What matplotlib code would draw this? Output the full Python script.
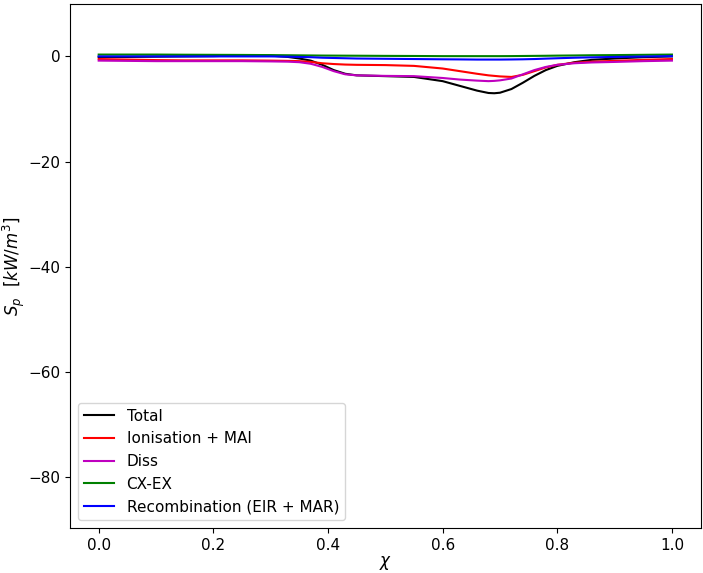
import matplotlib
matplotlib.use("Agg")
import matplotlib.pyplot as plt

chi = [0.0, 0.05, 0.1, 0.15, 0.2, 0.25, 0.3, 0.33, 0.35, 0.37, 0.39, 0.41, 0.43, 0.45,
       0.5, 0.55, 0.6, 0.63, 0.66, 0.68, 0.69, 0.70, 0.72, 0.74, 0.76, 0.78, 0.80, 0.83,
       0.86, 0.9, 0.95, 1.0]

total = [-0.1, -0.1, -0.05, 0.0, 0.05, 0.2, 0.15, -0.1, -0.4, -0.8, -1.6, -2.6, -3.3, -3.6,
         -3.75, -3.9, -4.7, -5.6, -6.5, -6.95, -7.0, -6.9, -6.2, -5.0, -3.7, -2.6, -1.8,
         -1.1, -0.65, -0.4, -0.15, 0.0]
ionisation = [-0.5, -0.6, -0.7, -0.75, -0.75, -0.75, -0.8, -0.85, -0.9, -1.05, -1.3, -1.45,
              -1.55, -1.6, -1.65, -1.8, -2.3, -2.8, -3.3, -3.6, -3.7, -3.8, -3.9, -3.5, -2.8,
              -2.1, -1.6, -1.2, -1.0, -0.85, -0.65, -0.5]
diss = [-0.8, -0.85, -0.9, -0.9, -0.9, -0.9, -0.95, -1.0, -1.1, -1.4, -2.0, -2.8, -3.4, -3.6,
        -3.7, -3.75, -4.1, -4.4, -4.6, -4.7, -4.65, -4.55, -4.2, -3.4, -2.6, -2.0, -1.6, -1.3,
        -1.15, -1.05, -0.9, -0.8]
cx_ex = [0.35, 0.35, 0.35, 0.32, 0.3, 0.28, 0.25, 0.22, 0.2, 0.18, 0.16, 0.15, 0.14, 0.13,
         0.1, 0.08, 0.05, 0.05, 0.05, 0.05, 0.05, 0.05, 0.06, 0.08, 0.1, 0.12, 0.15, 0.18,
         0.22, 0.25, 0.3, 0.35]
recomb = [0.0, 0.0, 0.0, 0.0, 0.0, 0.0, 0.0, -0.05, -0.1, -0.15, -0.25, -0.3, -0.35, -0.4,
          -0.45, -0.5, -0.55, -0.57, -0.6, -0.6, -0.6, -0.6, -0.58, -0.55, -0.5, -0.42, -0.35,
          -0.25, -0.18, -0.1, -0.02, 0.05]

plt.rcParams['font.size'] = 11

fig = plt.figure(figsize=(7.03, 5.73), dpi=100)
ax = fig.add_axes([0.0996, 0.0785, 0.897, 0.914])

ax.plot(chi, total, color='k', lw=1.5, label='Total')
ax.plot(chi, ionisation, color='r', lw=1.5, label='Ionisation + MAI')
ax.plot(chi, diss, color='m', lw=1.5, label='Diss')
ax.plot(chi, cx_ex, color='g', lw=1.5, label='CX-EX')
ax.plot(chi, recomb, color='b', lw=1.5, label='Recombination (EIR + MAR)')

ax.set_ylim(-89.6, 9.9)
ax.set_xlabel(r'$\chi$', fontsize=12, labelpad=1)
ax.set_ylabel(r'$S_p$  [$kW/m^3$]', fontsize=12, labelpad=1)
ax.legend(loc='lower left')

fig.savefig('out.png', dpi=100)
